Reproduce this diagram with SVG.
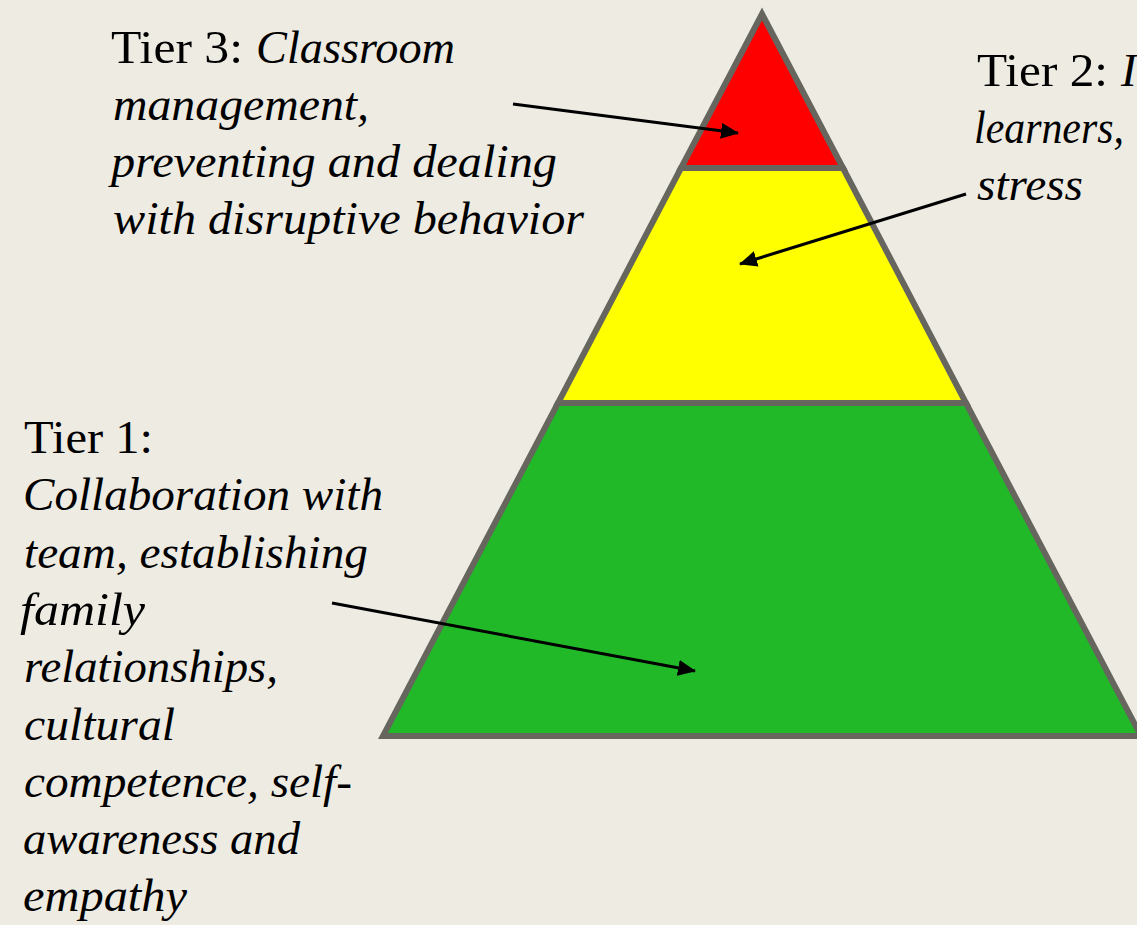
<svg xmlns="http://www.w3.org/2000/svg" width="1137" height="925" viewBox="0 0 1137 925">
  <style>
    .tier { stroke: #66665f; stroke-width: 6; stroke-linejoin: miter; }
    .lbl { font-family: "Liberation Serif", "Times New Roman", serif; font-size: 47px; fill: #000; }
    .it { font-style: italic; }
    .conn { stroke: #000; stroke-width: 3; fill: none; marker-end: url(#head); }
  </style>
  <defs>
    <marker id="head" markerUnits="userSpaceOnUse" markerWidth="18" markerHeight="16" refX="17" refY="8" orient="auto">
      <path d="M0,0 L18,8 L0,16 Z" fill="#000"/>
    </marker>
  </defs>

  <rect width="1137" height="925" fill="#eeebe3"/>

  <!-- pyramid tiers -->
  <g id="tier1-band">
    <polygon class="tier" points="558,403 966,403 1141,736 383,736" fill="#21b928"/>
  </g>
  <g id="tier2-band">
    <polygon class="tier" points="681,168 843,168 966,403 558,403" fill="#ffff00"/>
  </g>
  <g id="tier3-band">
    <polygon class="tier" points="762,14 843,168 681,168" fill="#ff0000"/>
  </g>

  <!-- labels -->
  <g id="tier3-label">
    <text class="lbl" x="111" y="63" textLength="132" lengthAdjust="spacingAndGlyphs">Tier 3:</text>
    <text class="lbl it" x="256" y="63" textLength="199" lengthAdjust="spacingAndGlyphs">Classroom</text>
    <text class="lbl it" x="113" y="120" textLength="256" lengthAdjust="spacingAndGlyphs">management,</text>
    <text class="lbl it" x="111" y="177" textLength="446" lengthAdjust="spacingAndGlyphs">preventing and dealing</text>
    <text class="lbl it" x="113" y="234" textLength="471" lengthAdjust="spacingAndGlyphs">with disruptive behavior</text>
  </g>
  <g id="tier2-label">
    <text class="lbl" x="977" y="86" textLength="131" lengthAdjust="spacingAndGlyphs">Tier 2:</text>
    <text class="lbl it" x="1121" y="86">I</text>
    <text class="lbl it" x="974" y="143" font-size="42" textLength="150" lengthAdjust="spacingAndGlyphs">learners,</text>
    <text class="lbl it" x="977" y="200" textLength="106" lengthAdjust="spacingAndGlyphs">stress</text>
  </g>
  <g id="tier1-label">
    <text class="lbl" x="24" y="453" textLength="129" lengthAdjust="spacingAndGlyphs">Tier 1:</text>
    <text class="lbl it" x="23" y="510" textLength="360" lengthAdjust="spacingAndGlyphs">Collaboration with</text>
    <text class="lbl it" x="24" y="568" textLength="344" lengthAdjust="spacingAndGlyphs">team, establishing</text>
    <text class="lbl it" x="20" y="625" textLength="125" lengthAdjust="spacingAndGlyphs">family</text>
    <text class="lbl it" x="24" y="682" textLength="254" lengthAdjust="spacingAndGlyphs">relationships,</text>
    <text class="lbl it" x="24" y="740" textLength="151" lengthAdjust="spacingAndGlyphs">cultural</text>
    <text class="lbl it" x="24" y="797" textLength="328" lengthAdjust="spacingAndGlyphs">competence, self-</text>
    <text class="lbl it" x="23" y="854" textLength="277" lengthAdjust="spacingAndGlyphs">awareness and</text>
    <text class="lbl it" x="23" y="911" textLength="164" lengthAdjust="spacingAndGlyphs">empathy</text>
  </g>

  <!-- connectors -->
  <g id="connectors">
    <line class="conn" x1="513" y1="104" x2="738" y2="133"/>
    <line class="conn" x1="966" y1="194" x2="740" y2="264"/>
    <line class="conn" x1="332" y1="603" x2="695" y2="671"/>
  </g>
</svg>
